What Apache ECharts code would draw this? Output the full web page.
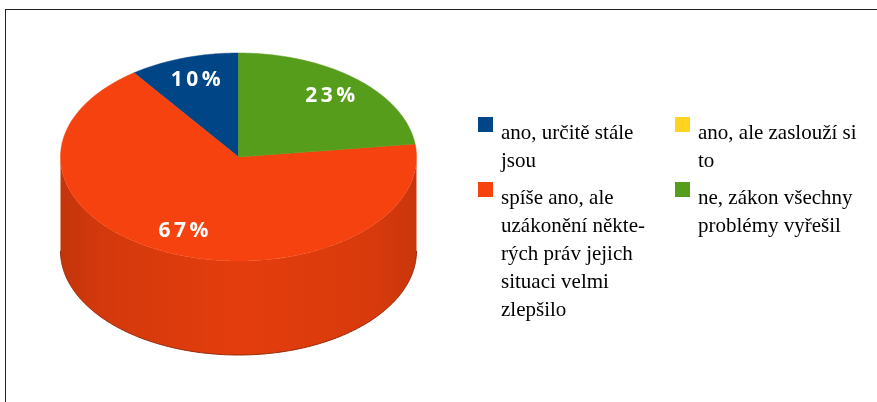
<!DOCTYPE html>
<html>
<head>
<meta charset="utf-8">
<script src="https://cdn.jsdelivr.net/npm/echarts@6/dist/echarts.min.js"></script>
<style>
html,body{margin:0;padding:0;background:#fff;}
#c{width:877px;height:402px;}
</style>
</head>
<body>
<div id="c"></div>
<script>
// ---- data ----
const categories = [
  'ano, určitě stále jsou',
  'spíše ano, ale uzákonění některých práv jejich situaci velmi zlepšilo',
  'ano, ale zaslouží si to',
  'ne, zákon všechny problémy vyřešil'
];
const legendLines = [
  ['ano, určitě stále', 'jsou'],
  ['spíše ano, ale', 'uzákonění někte-', 'rých práv jejich', 'situaci velmi', 'zlepšilo'],
  ['ano, ale zaslouží si', 'to'],
  ['ne, zákon všechny', 'problémy vyřešil']
];
const values = [10, 67, 0, 23];
const palette = ['#004586', '#f5420e', '#ffd320', '#579d1c'];

// ---- layout ----
const PIE = { cx: 238.5, cy: 157, rx: 178, ry: 104, depth: 94, labelFrac: 0.78 };
const LEG = { col: [478, 675], lineH: 28, iconW: 18, iconBox: 33 };
const legCol = [0, 0, 1, 1];
const legIconTop = [117, 182, 117, 182];

const total = values.reduce((a, b) => a + b, 0);

function shade(hex, f) {
  const n = parseInt(hex.slice(1), 16);
  let r = (n >> 16) & 255, g = (n >> 8) & 255, b = n & 255;
  r = Math.round(r * f); g = Math.round(g * f); b = Math.round(b * f);
  return 'rgb(' + r + ',' + g + ',' + b + ')';
}
function pt(phi, dy) {
  // phi: counter-clockwise from 12 o'clock
  return [PIE.cx - PIE.rx * Math.sin(phi), PIE.cy + dy - PIE.ry * Math.cos(phi)];
}
function arc(a, b, dy) {
  const pts = [];
  const n = Math.max(2, Math.ceil(Math.abs(b - a) / 0.01));
  for (let i = 0; i <= n; i++) pts.push(pt(a + (b - a) * i / n, dy));
  return pts;
}

function makeRender(k) {
  return function (params, api) {
    const v = api.value(0);
    if (!v) return { type: 'group', children: [] };
    let before = 0;
    for (let i = 0; i < k; i++) before += values[i];
    const a1 = before / total * Math.PI * 2;
    const a2 = (before + v) / total * Math.PI * 2;
    const color = palette[k];
    const children = [];
    const s = Math.max(a1, Math.PI / 2), e = Math.min(a2, Math.PI * 1.5);
    if (e > s) {
      const top = arc(s, e, 0);
      const bot = arc(e, s, PIE.depth);
      children.push({
        type: 'polygon', z2: 1,
        shape: { points: top.concat(bot) },
        style: {
          fill: new echarts.graphic.LinearGradient(PIE.cx - PIE.rx, 0, PIE.cx + PIE.rx, 0, [
            { offset: 0, color: shade(color, 0.8) },
            { offset: 0.12, color: shade(color, 0.86) },
            { offset: 0.5, color: shade(color, 0.93) },
            { offset: 0.88, color: shade(color, 0.88) },
            { offset: 1, color: shade(color, 0.82) }
          ], true)
        }
      });
      children.push({
        type: 'polyline', z2: 2,
        shape: { points: arc(s, e, PIE.depth) },
        style: { stroke: shade(color, 0.6), lineWidth: 1, fill: null }
      });
    }
    children.push({
      type: 'polygon', z2: 3,
      shape: { points: [[PIE.cx, PIE.cy]].concat(arc(a1, a2, 0)) },
      style: { fill: color, stroke: color, lineWidth: 0.5 }
    });
    const m = (a1 + a2) / 2;
    const pct = Math.round(v / total * 100) + '%';
    children.push({
      type: 'text', z2: 10,
      x: PIE.cx - PIE.rx * PIE.labelFrac * Math.sin(m),
      y: PIE.cy - PIE.ry * PIE.labelFrac * Math.cos(m),
      style: {
        text: pct.split('').join('\u2009'),
        fill: '#ffffff',
        font: 'bold 21px "Open Sans"',
        align: 'center', verticalAlign: 'middle'
      }
    });
    return { type: 'group', children: children };
  };
}

const series = categories.map((name, k) => ({
  type: 'custom',
  name: name,
  coordinateSystem: 'none',
  itemStyle: { color: palette[k] },
  data: [values[k]],
  renderItem: makeRender(k),
  animation: false
}));

// 15px square at the top-left of a taller/wider box, so the first text line sits a bit lower and further right
const iconPath = 'path://M0,0H15V15H0Z M0,33L18,33';

const legends = categories.map((name, k) => {
  const L = legendLines[k].length;
  const T = 2 * L - 1;
  const off = (LEG.lineH * T) / 2 - LEG.iconBox / 2;
  return {
    data: [name],
    orient: 'vertical',
    left: LEG.col[legCol[k]],
    top: legIconTop[k] - off,
    padding: 0,
    itemWidth: LEG.iconW,
    itemHeight: LEG.iconBox,
    icon: iconPath,
    selectedMode: false,
    formatter: function () {
      return '\n'.repeat(L - 1) + legendLines[k].join('\n');
    },
    textStyle: {
      fontFamily: 'Liberation Serif',
      fontSize: 21,
      lineHeight: LEG.lineH,
      color: '#000'
    }
  };
});

const chart = echarts.init(document.getElementById('c'), null, { renderer: 'canvas' });
chart.setOption({
  animation: false,
  backgroundColor: '#fff',
  legend: legends,
  series: series,
  graphic: [
    { type: 'line', shape: { x1: 5, y1: 9.5, x2: 877, y2: 9.5 }, style: { stroke: '#222', lineWidth: 1 } },
    { type: 'line', shape: { x1: 5.5, y1: 9, x2: 5.5, y2: 402 }, style: { stroke: '#222', lineWidth: 1 } }
  ]
});
</script>
</body>
</html>
